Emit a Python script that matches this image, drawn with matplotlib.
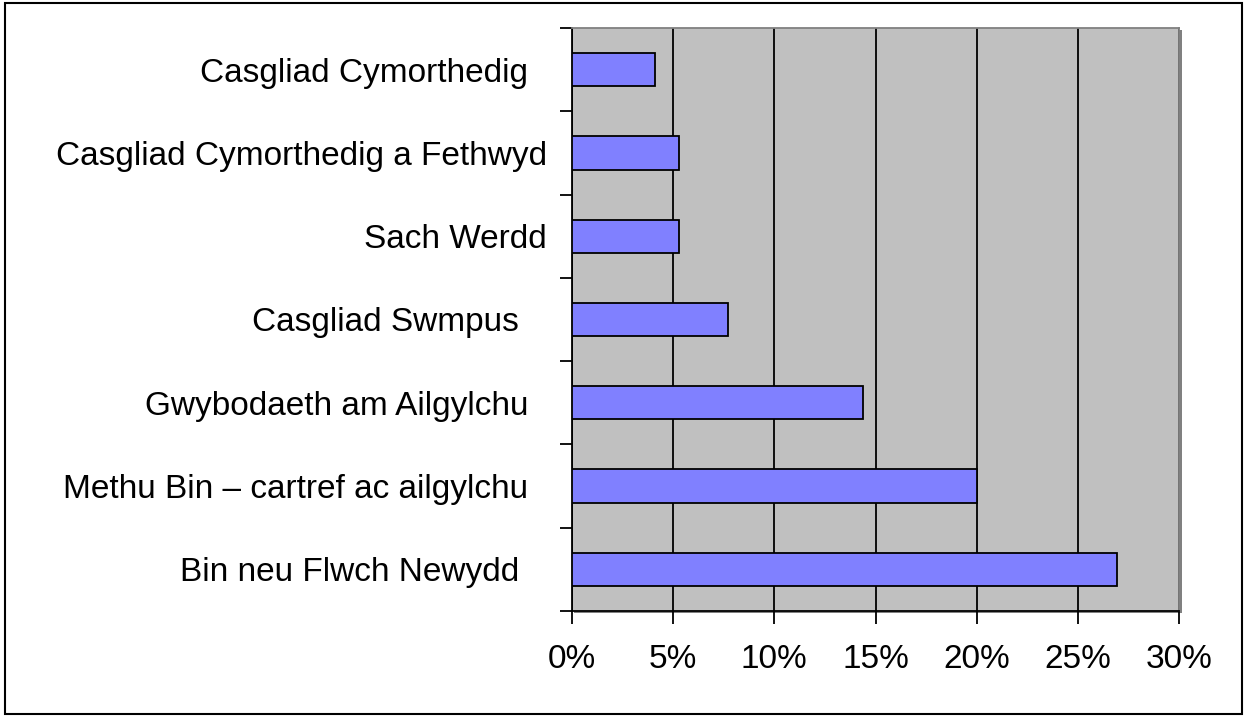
import numpy as np
import matplotlib
matplotlib.use("Agg")
import matplotlib.pyplot as plt
from matplotlib.patches import Rectangle

plt.rcParams['font.family'] = ['Liberation Sans', 'DejaVu Sans']

# categories top to bottom, trailing spaces as in the original labels
categories = ["Casgliad Cymorthedig  ",
              "Casgliad Cymorthedig a Fethwyd",
              "Sach Werdd",
              "Casgliad Swmpus   ",
              "Gwybodaeth am Ailgylchu  ",
              "Methu Bin \u2013 cartref ac ailgylchu  ",
              "Bin neu Flwch Newydd   "]
values = [4.1, 5.3, 5.3, 7.7, 14.4, 20.0, 26.9]
xticks = [0, 5, 10, 15, 20, 25, 30]
xlabels = ["0%", "5%", "10%", "15%", "20%", "25%", "30%"]

fig = plt.figure(figsize=(12.44, 7.16), dpi=100)
pos = [0.4596, 0.1466, 0.4884, 0.8144]
ax = fig.add_axes(pos, zorder=2)

n = len(categories)
y = np.arange(n)[::-1]

# plot area shadow
shadow = Rectangle((pos[0] + 0.002, pos[1] - 0.003), pos[2], pos[3],
                   transform=fig.transFigure, facecolor='#808080',
                   edgecolor='none', zorder=1)
fig.patches.append(shadow)

ax.set_facecolor('#C0C0C0')
ax.barh(y, values, height=0.4, color='#8080FF', edgecolor='black',
        linewidth=1.3, zorder=3)

ax.set_xlim(0, 30)
ax.set_ylim(-0.5, n - 0.5)
ax.set_xticks(xticks)
ax.set_xticklabels(xlabels, fontsize=24)
ax.xaxis.grid(True, color='black', linewidth=1.3, zorder=1)
ax.set_axisbelow(True)

ax.set_yticks(np.arange(-0.5, n, 1.0))
ax.set_yticklabels([])
ax.set_yticks(y, minor=True)
ax.set_yticklabels(categories, minor=True, fontsize=24)
ax.tick_params(axis='y', which='minor', length=0, pad=18)
ax.tick_params(axis='y', which='major', length=9, width=1.3, direction='out')
ax.tick_params(axis='x', length=9, width=1.3, direction='out', pad=15)

for side in ['top', 'right']:
    ax.spines[side].set_color('#808080')
    ax.spines[side].set_linewidth(1.3)
for side in ['left', 'bottom']:
    ax.spines[side].set_color('black')
    ax.spines[side].set_linewidth(1.3)

# outer chart border
border = Rectangle((0.004, 0.003), 0.994, 0.993, transform=fig.transFigure,
                   facecolor='none', edgecolor='black', linewidth=1.5)
fig.patches.append(border)

fig.savefig("out.png", dpi=100, facecolor='white')
